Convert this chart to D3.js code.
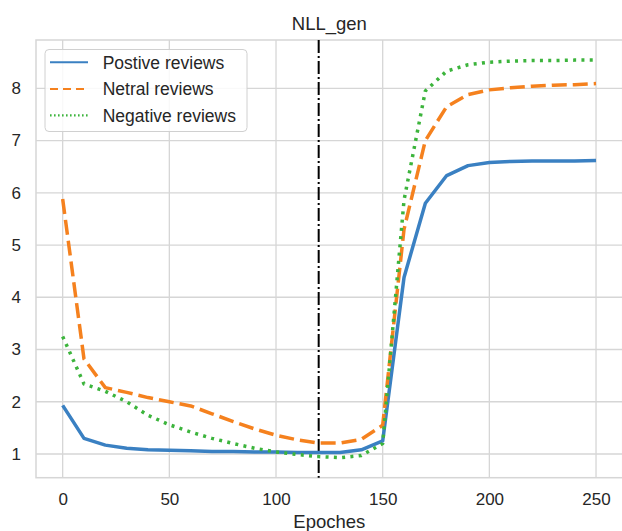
<!DOCTYPE html>
<html>
<head>
<meta charset="utf-8">
<script src="https://cdn.jsdelivr.net/npm/d3@7"></script>
<style>
  html, body { margin: 0; padding: 0; background: #fff; }
  svg { display: block; font-family: "Liberation Sans", Arial, sans-serif; }
</style>
</head>
<body>
<svg id="chart" width="622" height="531"></svg>
<script>
const epochs = [0,10,20,30,40,50,60,70,80,90,100,110,120,130,140,150,160,170,180,190,200,210,220,230,240,250];
const positive = [1.93,1.30,1.17,1.11,1.08,1.07,1.06,1.05,1.05,1.04,1.04,1.03,1.03,1.03,1.08,1.25,4.38,5.80,6.33,6.52,6.58,6.60,6.61,6.61,6.61,6.62];
const neutral  = [5.88,2.82,2.27,2.18,2.08,2.00,1.92,1.77,1.62,1.48,1.36,1.27,1.21,1.21,1.28,1.55,5.30,7.00,7.65,7.88,7.97,8.01,8.04,8.06,8.07,8.09];
const negative = [3.25,2.34,2.20,2.00,1.74,1.56,1.42,1.30,1.20,1.11,1.04,0.99,0.95,0.93,0.97,1.20,5.86,7.95,8.33,8.45,8.50,8.52,8.53,8.53,8.54,8.54];
const seriesNames = ["Postive reviews","Netral reviews","Negative reviews"];
const xTicks = [0,50,100,150,200,250];
const yTicks = [1,2,3,4,5,6,7,8];
const markerEpoch = 120;
const title = "NLL_gen";
const xLabel = "Epoches";

const svg = d3.select("#chart");
const L = 36, R = 622.7, T = 40, B = 477.7;
const x = d3.scaleLinear().domain([-12.5, 262.5]).range([L, R]);
const y = d3.scaleLinear().domain([1, 8]).range([454, 88.3]);

const gridColor = "#d6d6d6";
const textColor = "#262626";

// grid
svg.append("g").selectAll("line.vg").data(xTicks).join("line")
  .attr("x1", d => x(d)).attr("x2", d => x(d)).attr("y1", T).attr("y2", B)
  .attr("stroke", gridColor).attr("stroke-width", 1.3);
svg.append("g").selectAll("line.hg").data(yTicks).join("line")
  .attr("x1", L).attr("x2", R).attr("y1", d => y(d)).attr("y2", d => y(d))
  .attr("stroke", gridColor).attr("stroke-width", 1.3);
// frame
svg.append("rect").attr("x", L).attr("y", T).attr("width", R - L).attr("height", B - T)
  .attr("fill", "none").attr("stroke", gridColor).attr("stroke-width", 1.5);

// axes (tick labels only)
const xAxis = svg.append("g").attr("transform", `translate(0,${B})`)
  .call(d3.axisBottom(x).tickValues(xTicks).tickSize(0).tickPadding(15).tickFormat(d3.format("d")));
const yAxis = svg.append("g").attr("transform", `translate(${L},0)`)
  .call(d3.axisLeft(y).tickValues(yTicks).tickSize(0).tickPadding(15).tickFormat(d3.format("d")));
[xAxis, yAxis].forEach(g => {
  g.select(".domain").remove();
  g.selectAll("text").attr("fill", textColor).attr("font-size", 17)
   .attr("font-family", "Liberation Sans, Arial, sans-serif");
});

// vertical dash-dot marker
svg.append("line")
  .attr("x1", x(markerEpoch)).attr("x2", x(markerEpoch)).attr("y1", T).attr("y2", B)
  .attr("stroke", "#000").attr("stroke-width", 2).attr("stroke-dasharray", "13,3,2,3");

const styles = [
  {color: "#3a80c2", dash: null, width: 3.5, ldash: null, lwidth: 2},
  {color: "#f5811e", dash: "15,6", width: 3.5, ldash: "8,5", lwidth: 2.2},
  {color: "#3cb43c", dash: "3,5.3", width: 3.5, ldash: "1.6,2.4", lwidth: 2.2}
];
const allSeries = [positive, neutral, negative];
const line = d3.line().x((d, i) => x(epochs[i])).y(d => y(d));

allSeries.forEach((s, k) => {
  const st = styles[k];
  svg.append("path").datum(s)
    .attr("d", line)
    .attr("fill", "none")
    .attr("stroke", st.color)
    .attr("stroke-width", st.width)
    .attr("stroke-linejoin", "round")
    .attr("stroke-dasharray", st.dash);
});

// title and x label
svg.append("text").attr("x", (L + R) / 2).attr("y", 30).attr("text-anchor", "middle")
  .attr("font-size", 18.5).attr("fill", textColor).text(title);
svg.append("text").attr("x", (L + R) / 2).attr("y", 528).attr("text-anchor", "middle")
  .attr("font-size", 18.5).attr("fill", textColor).text(xLabel);

// legend
const lg = svg.append("g");
lg.append("rect").attr("x", 45).attr("y", 49.5).attr("width", 202).attr("height", 82)
  .attr("rx", 4).attr("fill", "#fff").attr("fill-opacity", 0.85)
  .attr("stroke", "#d0d0d0").attr("stroke-width", 1);
const rowsY = [62.3, 89, 115.3];
seriesNames.forEach((name, k) => {
  const st = styles[k];
  lg.append("line").attr("x1", 50).attr("x2", 88).attr("y1", rowsY[k]).attr("y2", rowsY[k])
    .attr("stroke", st.color).attr("stroke-width", st.lwidth).attr("stroke-dasharray", st.ldash);
  lg.append("text").attr("x", 102.7).attr("y", rowsY[k]).attr("dy", "0.36em")
    .attr("font-size", 17.5).attr("fill", textColor).text(name);
});
</script>
</body>
</html>
